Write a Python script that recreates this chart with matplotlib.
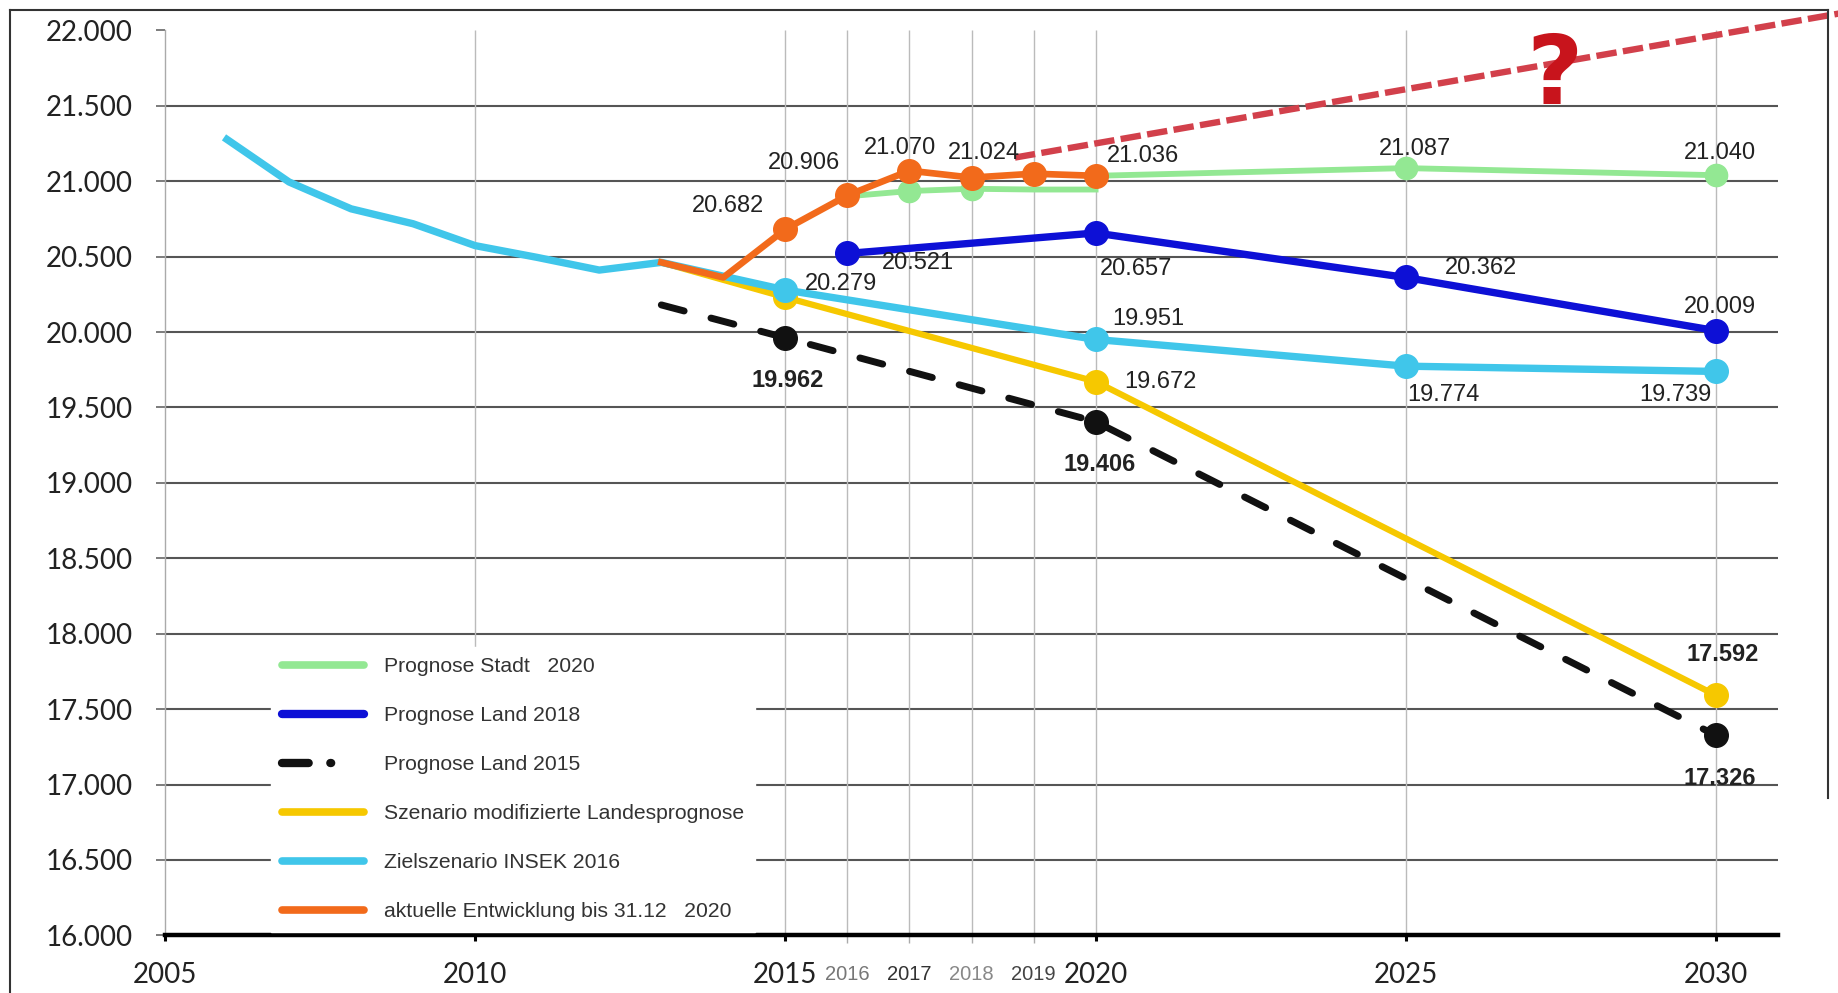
import matplotlib
matplotlib.use("Agg")
import matplotlib.pyplot as plt
from matplotlib.lines import Line2D
import numpy as np

# --- data -------------------------------------------------------------
stadt_a_years = [2016, 2017, 2018, 2019, 2020]
stadt_a_vals = [20900, 20935, 20950, 20945, 20945]
stadt_b_years = [2020, 2025, 2030]
stadt_b_vals = [21036, 21087, 21040]

land18_years = [2016, 2020, 2025, 2030]
land18_vals = [20521, 20657, 20362, 20009]

land15_years = [2013, 2015, 2020, 2030]
land15_vals = [20180, 19962, 19406, 17326]

modif_years = [2013, 2015, 2020, 2030]
modif_vals = [20462, 20230, 19672, 17592]

insek_years = [2006, 2007, 2008, 2009, 2010, 2011, 2012, 2013, 2015, 2020, 2025, 2030]
insek_vals = [21277, 20995, 20817, 20718, 20573, 20495, 20411, 20462, 20279, 19951, 19774, 19739]

ist_years = [2013, 2014, 2015, 2016, 2017, 2018, 2019, 2020]
ist_vals = [20462, 20362, 20682, 20906, 21070, 21024, 21050, 21036]

trend_years = [2018.7, 2032.0]
trend_vals = [21157, 22113]

yticks = list(range(16000, 22001, 500))
major_years = [2005, 2010, 2015, 2020, 2025, 2030]
minor_years = [2016, 2017, 2018, 2019]
minor_colors = ["#777777", "#333333", "#888888", "#444444"]
grid_years = [2010, 2015, 2016, 2017, 2018, 2019, 2020, 2025, 2030]

legend_labels = ["Prognose Stadt   2020", "Prognose Land 2018", "Prognose Land 2015",
                 "Szenario modifizierte Landesprognose", "Zielszenario INSEK 2016",
                 "aktuelle Entwicklung bis 31.12   2020"]

# (value, x, y, dx, dy, bold)
labels = [
    (20682, 2015, 20682, -41, 17, False),
    (20906, 2016, 20906, -31, 23, False),
    (21070, 2017, 21070, -7, 16, False),
    (21024, 2018, 21024, 9, 18, False),
    (21036, 2020, 21036, 34, 14, False),
    (21087, 2025, 21087, 7, 14, False),
    (21040, 2030, 21040, 3, 16, False),
    (20521, 2016, 20521, 51, -7, False),
    (20657, 2020, 20657, 29, -26, False),
    (20362, 2025, 20362, 54, 7, False),
    (20009, 2030, 20009, 3, 17, False),
    (20279, 2015, 20279, 40, 4, False),
    (19951, 2020, 19951, 38, 15, False),
    (19774, 2025, 19774, 27, -21, False),
    (19739, 2030, 19739, -29, -17, False),
    (19672, 2020, 19672, 47, 0, False),
    (19962, 2015, 19962, 2, -31, True),
    (19406, 2020, 19406, 3, -31, True),
    (17592, 2030, 17592, 5, 29, True),
    (17326, 2030, 17326, 3, -31, True),
]

c_green = "#93e893"
c_blue = "#0d10d6"
c_black = "#111111"
c_yellow = "#f6c800"
c_cyan = "#40c6ea"
c_orange = "#f26a1b"
c_red = "#d2404b"


def fmt(v):
    return f"{v:,}".replace(",", ".")


fig = plt.figure(figsize=(18.38, 9.93), dpi=100)
fig.patch.set_facecolor("white")
ax = fig.add_axes([165 / 1838, 1 - 935.4 / 993, 1613 / 1838, 905 / 993])
ax.set_xlim(2005, 2031)
ax.set_ylim(16000, 22000)

# grid
ax.hlines(yticks[1:-1], 2005, 2031, color="#555555", lw=1.5, zorder=1)
ax.vlines(grid_years, 16000, 22000, color="#bbbbbb", lw=1.0, zorder=1)

for s in ["top", "right"]:
    ax.spines[s].set_visible(False)
ax.spines["left"].set_color("#aaaaaa")
ax.spines["left"].set_linewidth(1.0)
ax.spines["bottom"].set_color("black")
ax.spines["bottom"].set_linewidth(3.2)

# series
ax.plot(modif_years, modif_vals, color=c_yellow, lw=4.5, marker="o", ms=17,
        markevery=[1, 2, 3], zorder=3)
ax.plot(land15_years, land15_vals, color=c_black, lw=5, dashes=(3.4, 4.0),
        dash_capstyle="round", marker="o", ms=17, markevery=[1, 2, 3], zorder=3)
ax.plot(insek_years, insek_vals, color=c_cyan, lw=5.3, marker="o", ms=17,
        markevery=[8, 9, 10, 11], zorder=4, solid_joinstyle="round")
ax.plot(land18_years, land18_vals, color=c_blue, lw=5.3, marker="o", ms=17, zorder=5)
ax.plot(stadt_a_years, stadt_a_vals, color=c_green, lw=4.2, marker="o", ms=16,
        markevery=[1, 2], zorder=5)
ax.plot(stadt_b_years, stadt_b_vals, color=c_green, lw=4.2, marker="o", ms=16,
        markevery=[1, 2], zorder=5)
ax.plot(ist_years, ist_vals, color=c_orange, lw=4.8, marker="o", ms=17,
        markevery=[2, 3, 4, 5, 6, 7], zorder=6, solid_joinstyle="round")
ax.plot(trend_years, trend_vals, color=c_red, lw=4.6, dashes=(3.2, 1.0),
        zorder=7, clip_on=False)
ax.text(2027.4, 21690, "?", color="#c8141c", fontsize=70, fontweight="bold",
        ha="center", va="center", zorder=8, family="DejaVu Sans")

# value labels
for v, x, y, dx, dy, bold in labels:
    ax.annotate(fmt(v), (x, y), xytext=(dx, dy), textcoords="offset points",
                ha="center", va="center", fontsize=17,
                fontweight="bold" if bold else "normal",
                family="Liberation Sans", color="#222222", zorder=9)

# ticks
ax.set_yticks(yticks)
ax.set_yticklabels([fmt(v) for v in yticks], family="Lato", fontsize=20, color="#222222")
ax.tick_params(axis="y", length=6.5, width=1.2, color="#666666", pad=17)

ax.set_xticks(major_years)
ax.set_xticklabels([str(y) for y in major_years], family="Lato", fontsize=20, color="#222222")
ax.tick_params(axis="x", which="major", length=4.5, width=2.2, color="black", pad=15)
ax.set_xticks(minor_years, minor=True)
ax.set_xticklabels([str(y) for y in minor_years], minor=True,
                   family="Liberation Sans", fontsize=14.5)
ax.tick_params(axis="x", which="minor", length=6, width=1, color="#aaaaaa", pad=15)
for lab, c in zip(ax.xaxis.get_minorticklabels(), minor_colors):
    lab.set_color(c)

# legend
handles = [
    Line2D([], [], color=c_green, lw=5.5, solid_capstyle="round"),
    Line2D([], [], color=c_blue, lw=6, solid_capstyle="round"),
    Line2D([], [], color=c_black, lw=6, dashes=(3.2, 2.6, 0.1, 8), dash_capstyle="round"),
    Line2D([], [], color=c_yellow, lw=5.5, solid_capstyle="round"),
    Line2D([], [], color=c_cyan, lw=5.5, solid_capstyle="round"),
    Line2D([], [], color=c_orange, lw=5.5, solid_capstyle="round"),
]
leg = ax.legend(handles, legend_labels, loc="lower left", bbox_to_anchor=(0.066, 0.004),
                borderaxespad=0, frameon=True, fancybox=False, framealpha=1,
                edgecolor="white", facecolor="white",
                prop={"family": "Liberation Sans", "size": 15.2},
                handlelength=3.9, handletextpad=0.95, labelspacing=1.42, borderpad=0.5)
for t in leg.get_texts():
    t.set_color("#333333")
leg.set_zorder(10)

# outer frame
for xs, ys in [((10, 1828), (983, 983)), ((10, 10), (983, 0)), ((1828, 1828), (983, 195))]:
    fig.add_artist(Line2D(np.array(xs) / 1838, np.array(ys) / 993, color="#333333", lw=1.5))

fig.savefig("out.png", dpi=100, facecolor="white")
